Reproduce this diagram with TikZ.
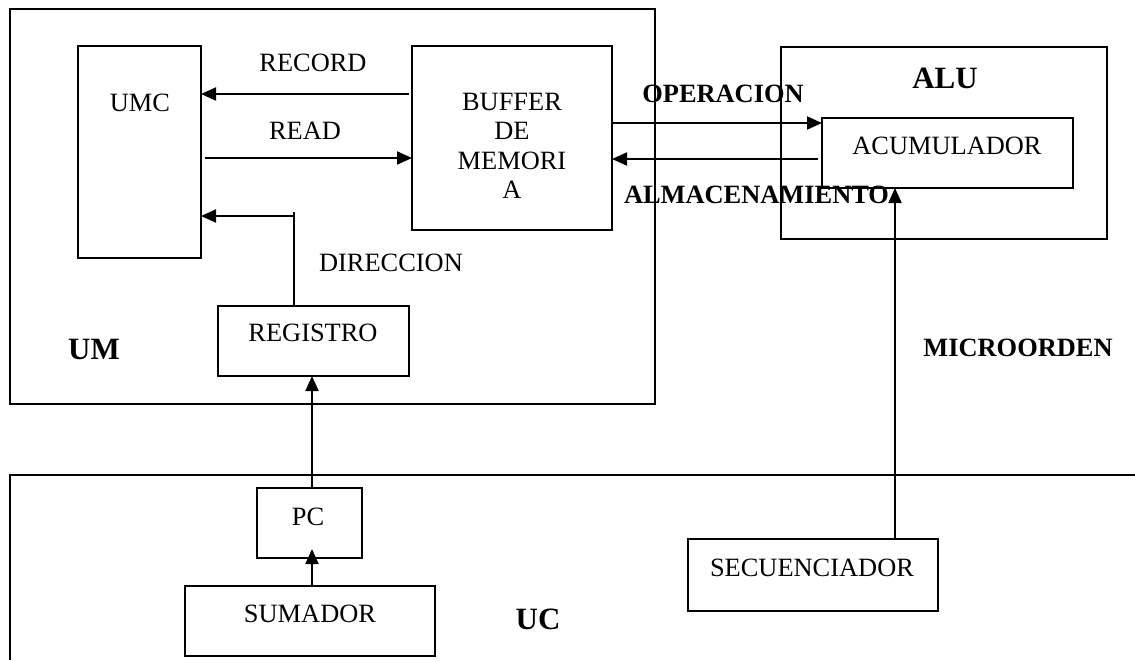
\documentclass[tikz,border=0pt]{standalone}
\usepackage{fontspec}
\setmainfont{Liberation Serif}
\usetikzlibrary{arrows.meta,fit}
\begin{document}
\begin{tikzpicture}[x=0.5pt,y=-0.5pt,
  line width=1pt,
  box/.style={draw, inner sep=0pt, outer sep=0pt},
  lbl/.style={inner sep=0pt, anchor=base, font=\fontsize{13.2}{15}\selectfont},
  blbl/.style={lbl, font=\fontsize{13.2}{15}\selectfont\bfseries},
  big/.style={lbl, font=\fontsize{15.5}{18}\selectfont\bfseries},
  arr/.style={-{Triangle[length=7.5pt,width=6.5pt]}},
]
\useasboundingbox (0,0) rectangle (1135,660);

% memory unit
\node[box, fit={(10,9)(655,404)}] (um) {};
\node[box, fit={(78,46)(201,258)}] (umc) {};
\node[box, fit={(412,46)(612,230)}] (buf) {};
\node[box, fit={(218,306)(409,376)}] (reg) {};

% arithmetic unit
\node[box, fit={(781,47)(1107,239)}] (alu) {};
\node[box, fit={(822,118)(1073,188)}] (acum) {};

% control unit (open frame)
\coordinate (ucR) at (1135,475);
\coordinate (ucTL) at (10,475);
\coordinate (ucB) at (10,660);
\draw (ucR) -- (ucTL) -- (ucB);
\node[box, fit={(257,488)(362,558)}] (pc) {};
\node[box, fit={(185,586)(435,656)}] (sum) {};
\node[box, fit={(688,539)(938,611)}] (sec) {};

% labels
\node[lbl] (tumc) at (140,111) {UMC};
\node[lbl] (trec) at (313,71) {RECORD};
\node[lbl] (tread) at (305,139) {READ};
\node[inner sep=0pt, anchor=north, align=center,
      font=\fontsize{13.2}{14.75}\selectfont] (tbuf) at (512,92) {BUFFER\\DE\\MEMORI\\A};
\node[lbl] (tdir) at (391,271) {DIRECCION};
\node[lbl] (treg) at (313,341) {REGISTRO};
\node[big] (tum) at (94,359) {UM};
\node[big] (talu) at (945,88) {ALU};
\node[lbl] (tacum) at (947,154) {ACUMULADOR};
\node[blbl] (top) at (723,102) {OPERACION};
\node[blbl, anchor=base west] (talm) at (623,203) {ALMACENAMIENTO};
\node[blbl] (tmic) at (1018,356) {MICROORDEN};
\node[lbl] (tpc) at (308,525) {PC};
\node[lbl] (tsum) at (310,622) {SUMADOR};
\node[big] (tuc) at (538,629) {UC};
\node[lbl] (tsec) at (812,576) {SECUENCIADOR};

% connector rows and columns
\coordinate (yrec) at (0,94);
\coordinate (yread) at (0,158);
\coordinate (ydir) at (0,216);
\coordinate (dtop) at (294,212);
\coordinate (yop) at (0,123);
\coordinate (yalm) at (0,159);
\coordinate (xpc) at (312,0);
\coordinate (xmic) at (895,0);

% connectors
\draw[arr, shorten <=1.5pt] (buf.west |- yrec) -- (umc.east |- yrec);
\draw[arr, shorten <=2pt] (umc.east |- yread) -- (buf.west |- yread);
\draw (reg.north -| dtop) -- (dtop);
\draw[arr] (dtop |- ydir) -- (umc.east |- ydir);
\draw[arr] (pc.north -| xpc) -- (reg.south -| xpc);
\draw[arr, shorten >=-4.5pt] (sum.north -| xpc) -- (pc.south -| xpc);
\draw[arr] (buf.east |- yop) -- (acum.west |- yop);
\draw[arr, shorten <=2pt] (acum.west |- yalm) -- (buf.east |- yalm);
\draw[arr] (sec.north -| xmic) -- (acum.south -| xmic);
\end{tikzpicture}
\end{document}
